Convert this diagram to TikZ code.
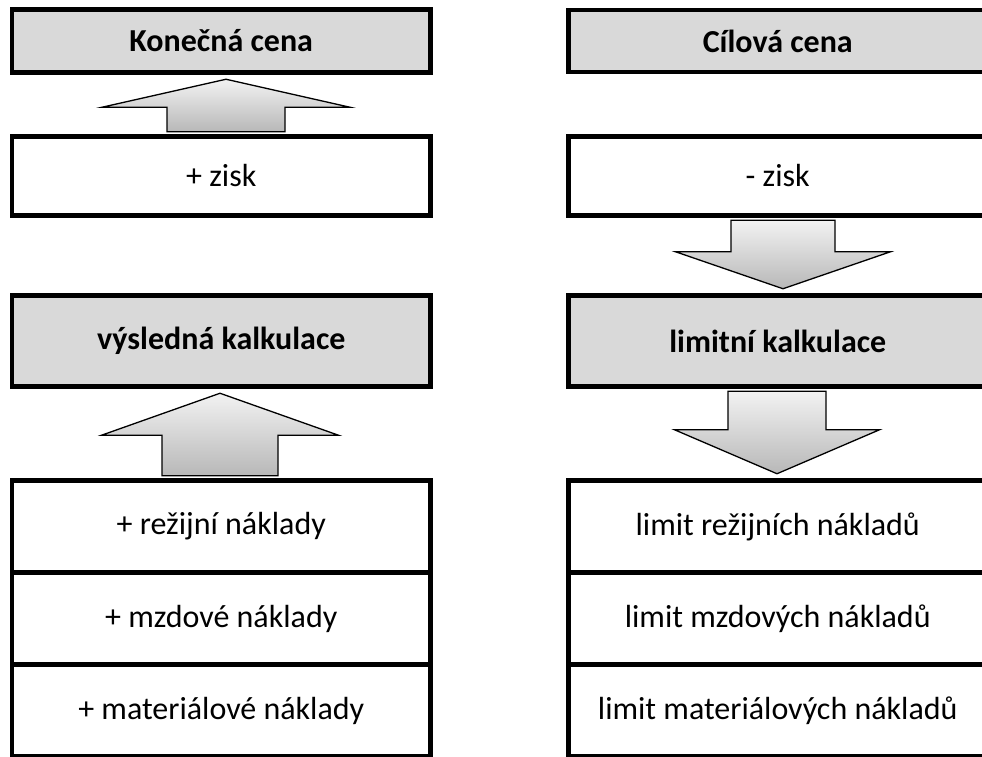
\documentclass[tikz,border=0pt]{standalone}
\usepackage{fontspec}
\setmainfont{Carlito}
\usetikzlibrary{calc}

\tikzset{
  box/.style={draw=black, line width=4.5pt, minimum width=418.5pt, inner sep=0pt,
    font=\fontsize{32}{38}\selectfont, fill=white},
  headbox/.style={box, fill=black!15, font=\fontsize{32}{38}\selectfont\bfseries},
  blockarrow/.style={draw=black, line width=1.3pt, line join=miter,
    top color=black!5, bottom color=black!28}
}

% Block arrow pointing up from node #1 (below) to node #2 (above).
% #3 x shift of the axis, #4 half shaft width, #5 half head width, #6 head length
\newcommand\blockup[6]{%
  \path[blockarrow] let \p1=($(#1.north)+(#3,2.5)$), \p2=($(#2.south)+(#3,-4.5)$) in
    (\x1-#4pt,\y1) -- (\x1-#4pt,\y2-#6pt) -- (\x1-#5pt,\y2-#6pt) -- (\x2,\y2)
    -- (\x1+#5pt,\y2-#6pt) -- (\x1+#4pt,\y2-#6pt) -- (\x1+#4pt,\y1) -- cycle;}
% Block arrow pointing down from node #1 (above) to node #2 (below).
\newcommand\blockdown[6]{%
  \path[blockarrow] let \p1=($(#1.south)+(#3,-2.5)$), \p2=($(#2.north)+(#3,4.5)$) in
    (\x1-#4pt,\y1) -- (\x1-#4pt,\y2+#6pt) -- (\x1-#5pt,\y2+#6pt) -- (\x2,\y2)
    -- (\x1+#5pt,\y2+#6pt) -- (\x1+#4pt,\y2+#6pt) -- (\x1+#4pt,\y1) -- cycle;}

\begin{document}
\begin{tikzpicture}[x=1pt,y=1pt]
  \useasboundingbox (0,0) rectangle (982,756);
  \clip (0,0) rectangle (982,756);

  % left column: costs build up to the final price
  \node[headbox, minimum height=63pt] (kon) at (221.25,715) {Konečná cena};
  \node[box, minimum height=79pt] (zisk) at (221.25,580) {+ zisk};
  \node[headbox, minimum height=91pt] (vysl) at (221.25,415) {výsledná kalkulace};
  \node[box, minimum height=92pt] (rez) at (221.25,229.5) {+ režijní náklady};
  \node[box, minimum height=92pt] (mzd) at (221.25,137.5) {+ mzdové náklady};
  \node[box, minimum height=92pt] (mat) at (221.25,45.5) {+ materiálové náklady};

  % right column: target price broken down into limits
  \node[headbox, minimum height=62pt] (cil) at (777.75,715) {Cílová cena};
  \node[box, minimum height=79pt] (zisk2) at (777.75,580) {- zisk};
  \node[headbox, minimum height=91pt] (lim) at (777.75,415) {limitní kalkulace};
  \node[box, minimum height=92pt] (lrez) at (777.75,229.5) {limit režijních nákladů};
  \node[box, minimum height=92pt] (lmzd) at (777.75,137.5) {limit mzdových nákladů};
  \node[box, minimum height=92pt] (lmat) at (777.75,45.5) {limit materiálových nákladů};

  % block arrows
  \blockup{zisk}{kon}{4.75}{59}{124}{28}
  \blockup{rez}{vysl}{-1.25}{58}{118.5}{42}
  \blockdown{zisk2}{lim}{5.25}{52}{107.5}{37}
  \blockdown{lim}{lrez}{-0.75}{49}{102.5}{44}
\end{tikzpicture}
\end{document}
